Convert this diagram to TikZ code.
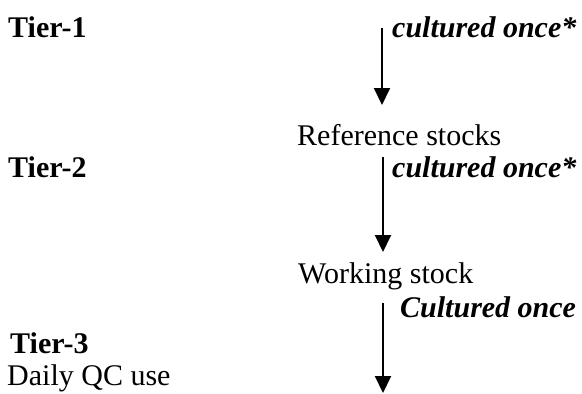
\documentclass[tikz,border=0pt]{standalone}
\usepackage{fontspec}
\setmainfont{Liberation Serif}
\usetikzlibrary{arrows.meta}

\begin{document}
\begin{tikzpicture}[
    x=1pt, y=-1pt,
    txt/.style={anchor=base west, inner sep=0pt, font=\fontsize{30}{36}\selectfont}, % Plain text
    tier/.style={txt, font=\fontsize{30}{36}\selectfont\bfseries}, % Tier labels
    note/.style={txt, font=\fontsize{30}{36}\selectfont\bfseries\itshape}, % Arrow notes
    flow/.style={line width=2pt, -{Triangle[width=16pt, length=17pt]}} % Downward arrows
]

% Fix the page size
\useasboundingbox (0,0) rectangle (582,394);

% Left column
\node[tier] (tier1) at (8,37) {Tier-1};
\node[tier] (tier2) at (8,177) {Tier-2};
\node[tier] (tier3) at (10,353) {Tier-3};
\node[txt] (dailyqc) at (7,385) {Daily QC use};

% Stocks
\node[txt] (refstock) at (297,145) {Reference stocks};
\node[txt] (workstock) at (298,283) {Working stock};

% Notes beside the arrows
\node[note] (note1) at (392,37) {cultured once*};
\node[note] (note2) at (392,177) {cultured once*};
\node[note] (note3) at (400,317) {Cultured once};

% Arrow end points
\coordinate (start1) at (382,28);
\coordinate (end1) at (382,105);
\coordinate (start2) at (383,157);
\coordinate (end2) at (383,252);
\coordinate (start3) at (383,303);
\coordinate (end3) at (383,393);

% Arrows
\draw[flow] (start1) -- (end1);
\draw[flow] (start2) -- (end2);
\draw[flow] (start3) -- (end3);

\end{tikzpicture}
\end{document}
